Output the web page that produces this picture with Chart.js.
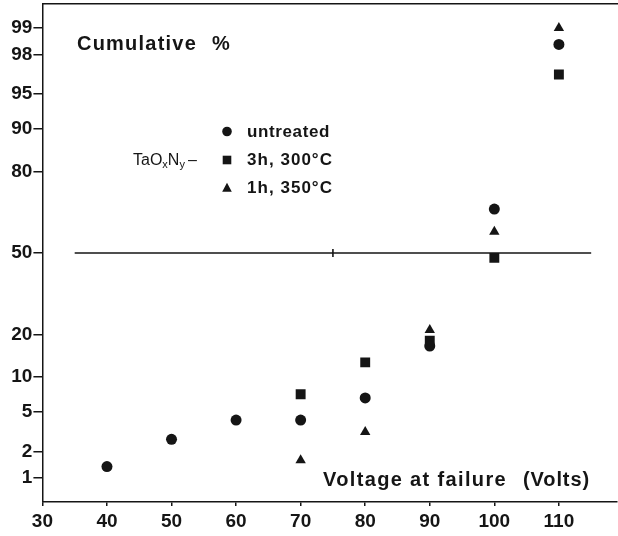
<!DOCTYPE html>
<html>
<head>
<meta charset="utf-8">
<script src="https://cdn.jsdelivr.net/npm/chart.js@4.4.1/dist/chart.umd.min.js"></script>
<style>
  html, body { margin: 0; padding: 0; background: #fff; }
</style>
</head>
<body>
<canvas id="myChart" width="618" height="536"></canvas>
<script>
// x axis: voltage at failure (V)
var xTicks = [30, 40, 50, 60, 70, 80, 90, 100, 110];
// y axis: cumulative %, on a normal probability scale
var yTicks = [1, 2, 5, 10, 20, 50, 80, 90, 95, 98, 99];

var untreatedV = [40, 50, 60, 70, 80, 90, 100, 110];
var untreatedP = [1.36, 2.7, 4.2, 4.2, 6.7, 16.8, 67.5, 98.45];

var h3V = [70, 80, 90, 100, 110];
var h3P = [7.2, 12.9, 18.2, 48, 96.75];

var h1V = [70, 80, 90, 100, 110];
var h1P = [1.6, 3.2, 21.3, 58.7, 99.0];

// 50 % reference line with a small mark at 75 V
var refV = [35, 75, 115];
var refP = [50, 50, 50];

var ink = "#151515";
var font = "'Liberation Sans', Arial, sans-serif";

// inverse normal cdf (Acklam), used to place % on the probability axis
function probit(p) {
  const a = [-39.69683028665376, 220.9460984245205, -275.9285104469687, 138.3577518672690, -30.66479806614716, 2.506628277459239];
  const b = [-54.47609879822406, 161.5858368580409, -155.6989798598866, 66.80131188771972, -13.28068155288572];
  const c = [-0.007784894002430293, -0.3223964580411365, -2.400758277161838, -2.549732539343734, 4.374664141464968, 2.938163982698783];
  const d = [0.007784695709041462, 0.3224671290700398, 2.445134137142996, 3.754408661907416];
  const plow = 0.02425;
  let q, r;
  if (p < plow) {
    q = Math.sqrt(-2 * Math.log(p));
    return (((((c[0]*q+c[1])*q+c[2])*q+c[3])*q+c[4])*q+c[5]) / ((((d[0]*q+d[1])*q+d[2])*q+d[3])*q+1);
  }
  if (p > 1 - plow) {
    q = Math.sqrt(-2 * Math.log(1 - p));
    return -(((((c[0]*q+c[1])*q+c[2])*q+c[3])*q+c[4])*q+c[5]) / ((((d[0]*q+d[1])*q+d[2])*q+d[3])*q+1);
  }
  q = p - 0.5; r = q * q;
  return (((((a[0]*r+a[1])*r+a[2])*r+a[3])*r+a[4])*r+a[5])*q / (((((b[0]*r+b[1])*r+b[2])*r+b[3])*r+b[4])*r+1);
}

function toPoints(xs, ps) {
  return xs.map((x, i) => ({ x: x, y: probit(ps[i] / 100) }));
}

// stretch a string to a given width with letter spacing
function fitText(ctx, str, x, y, w) {
  ctx.letterSpacing = "0px";
  const nat = ctx.measureText(str).width;
  const sp = (w - nat) / Math.max(1, str.length);
  ctx.letterSpacing = sp + "px";
  ctx.fillText(str, x, y);
  ctx.letterSpacing = "0px";
}

function marker(ctx, style, x, y, r) {
  ctx.beginPath();
  if (style === "circle") {
    ctx.arc(x, y, r, 0, Math.PI * 2);
  } else if (style === "rect") {
    ctx.rect(x - r, y - r, 2 * r, 2 * r);
  } else {
    ctx.moveTo(x, y - r * 1.1);
    ctx.lineTo(x + r, y + r * 0.8);
    ctx.lineTo(x - r, y + r * 0.8);
    ctx.closePath();
  }
  ctx.fill();
}

const labelsPlugin = {
  id: "labels",
  afterDraw(chart) {
    const ctx = chart.ctx;
    ctx.save();
    ctx.fillStyle = ink;
    ctx.textBaseline = "alphabetic";
    ctx.textAlign = "left";

    ctx.font = "bold 20px " + font;
    fitText(ctx, "Cumulative", 77, 49.5, 120);
    fitText(ctx, "%", 212, 49.5, 15);

    fitText(ctx, "Voltage at failure", 323, 486, 184);
    fitText(ctx, "(Volts)", 523, 486, 67);

    // legend
    ctx.font = "bold 17px " + font;
    marker(ctx, "circle", 227, 131.5, 4.8);
    fitText(ctx, "untreated", 247, 137, 83);
    marker(ctx, "rect", 227, 160, 4.3);
    fitText(ctx, "3h, 300°C", 247, 165, 86);
    marker(ctx, "triangle", 227, 188, 4.8);
    fitText(ctx, "1h, 350°C", 247, 192.5, 86);

    // TaOxNy-
    let x = 133;
    ctx.font = "16px " + font;
    ctx.fillText("TaO", x, 165); x += ctx.measureText("TaO").width;
    ctx.font = "11px " + font;
    ctx.fillText("x", x, 168); x += ctx.measureText("x").width;
    ctx.font = "16px " + font;
    ctx.fillText("N", x, 165); x += ctx.measureText("N").width;
    ctx.font = "11px " + font;
    ctx.fillText("y", x, 168); x += ctx.measureText("y").width + 3;
    ctx.font = "16px " + font;
    ctx.fillText("–", x, 165);
    ctx.restore();
  }
};

const ctx = document.getElementById("myChart").getContext("2d");

const myChart = new Chart(ctx, {
  type: "scatter",
  data: {
    datasets: [
      {
        label: "untreated",
        data: toPoints(untreatedV, untreatedP),
        pointStyle: "circle",
        pointRadius: 5.5,
        backgroundColor: ink,
        borderColor: ink,
        borderWidth: 0
      },
      {
        label: "3h, 300°C",
        data: toPoints(h3V, h3P),
        pointStyle: "rect",
        pointRadius: 7,
        backgroundColor: ink,
        borderColor: ink,
        borderWidth: 0
      },
      {
        label: "1h, 350°C",
        data: toPoints(h1V, h1P),
        pointStyle: "triangle",
        pointRadius: 6,
        backgroundColor: ink,
        borderColor: ink,
        borderWidth: 0
      },
      {
        label: "50%",
        type: "line",
        data: toPoints(refV, refP),
        showLine: true,
        borderColor: ink,
        borderWidth: 1.3,
        pointStyle: "line",
        rotation: 90,
        pointRadius: [0, 4, 0],
        pointBorderWidth: 1.6,
        pointBorderColor: ink
      }
    ]
  },
  options: {
    responsive: false,
    animation: false,
    layout: { autoPadding: false, padding: { top: 4, right: 1, left: 0, bottom: 0 } },
    plugins: {
      legend: { display: false },
      tooltip: { enabled: false }
    },
    scales: {
      x: {
        type: "linear",
        position: "bottom",
        min: 30,
        max: 119,
        afterBuildTicks: (s) => { s.ticks = xTicks.map(v => ({ value: v })); },
        afterFit: (s) => { s.height = 34; },
        ticks: {
          color: ink,
          font: { family: font, size: 19, weight: "bold" },
          padding: 4,
          maxRotation: 0,
          autoSkip: false
        },
        grid: { drawOnChartArea: false, tickLength: 4, color: ink, lineWidth: 1.5 },
        border: { display: true, color: ink, width: 1.5 }
      },
      top: {
        type: "linear",
        position: "top",
        min: 30,
        max: 119,
        ticks: { display: false },
        grid: { display: false },
        afterFit: (s) => { s.height = 0; },
        border: { display: true, color: ink, width: 1.5 }
      },
      y: {
        type: "linear",
        min: -2.575,
        max: 2.575,
        afterBuildTicks: (s) => { s.ticks = yTicks.map(p => ({ value: probit(p / 100) })); },
        afterFit: (s) => { s.width = 42.4; s.paddingTop = 0; s.paddingBottom = 0; },
        ticks: {
          color: ink,
          font: { family: font, size: 19, weight: "bold" },
          padding: 1,
          autoSkip: false,
          callback: (v, i) => yTicks[i]
        },
        grid: { drawOnChartArea: false, tickLength: 9, color: ink, lineWidth: 1.5 },
        border: { display: true, color: ink, width: 1.5 }
      }
    }
  },
  plugins: [labelsPlugin]
});
</script>
</body>
</html>
